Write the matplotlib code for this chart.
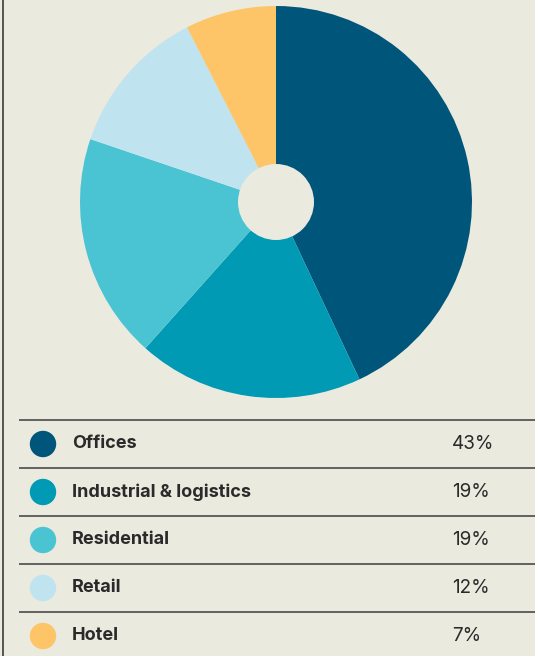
import matplotlib
matplotlib.use("Agg")
import matplotlib.pyplot as plt
from matplotlib.patches import Circle

categories = ["Offices", "Industrial & logistics", "Residential", "Retail", "Hotel"]
shares_label = [43, 19, 19, 12, 7]            # percentages printed in the table
shares_pie = [43.0, 18.6, 18.6, 12.3, 7.5]    # slice sizes
colors = ["#00557A", "#009AB5", "#4AC4D3", "#C0E4EF", "#FDC468"]
bg = "#EBEADF"

W, H = 535, 656
fig = plt.figure(figsize=(W / 100, H / 100), dpi=100)
fig.patch.set_facecolor(bg)

# table axes in pixel coordinates
ax = fig.add_axes([0, 0, 1, 1])
ax.set_xlim(0, W)
ax.set_ylim(H, 0)
ax.axis("off")
ax.set_facecolor(bg)

# left border
ax.plot([2.5, 2.5], [0, H], color="#3a3a3a", lw=1.2, solid_capstyle="butt")

# pie
cx, cy, r, hole = 276, 202, 196, 38
axp = fig.add_axes([(cx - r) / W, (H - cy - r) / H, 2 * r / W, 2 * r / H])
axp.pie(shares_pie, colors=colors, startangle=90, counterclock=False, radius=1,
        wedgeprops=dict(linewidth=0, antialiased=True))
axp.add_patch(Circle((0, 0), hole / r, facecolor=bg, edgecolor="none", zorder=5))
axp.set_xlim(-1, 1)
axp.set_ylim(-1, 1)
axp.set_aspect("equal")
axp.axis("off")

# table
row_top = 420
row_h = 48
for i, (cat, s, c) in enumerate(zip(categories, shares_label, colors)):
    y0 = row_top + i * row_h
    ax.plot([19, W], [y0, y0], color="#3c3c3c", lw=1.1, solid_capstyle="butt")
    yc = y0 + row_h / 2
    ax.add_patch(Circle((43, yc), 13.2, facecolor=c, edgecolor="none"))
    ax.text(72, yc, cat, fontsize=13.0, fontweight="bold", family="Inter",
            color="#2a2a2a", va="center", ha="left")
    ax.text(452, yc, f"{s}%", fontsize=13.6, family="Inter",
            color="#2a2a2a", va="center", ha="left")

fig.savefig("out.png", dpi=100, facecolor=bg)
